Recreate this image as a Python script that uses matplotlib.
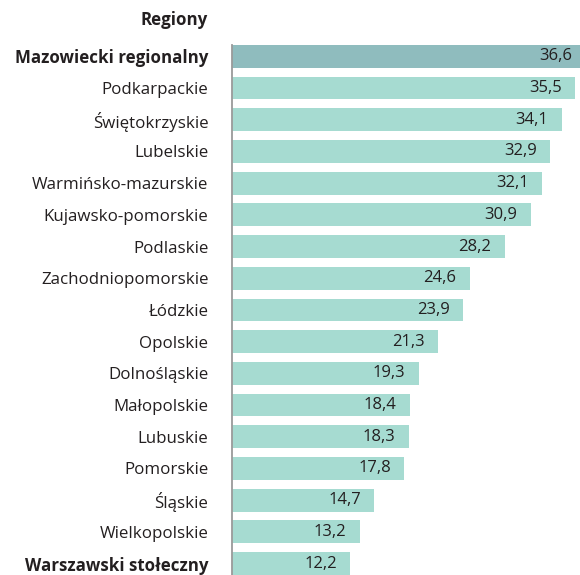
import numpy as np
import matplotlib
matplotlib.use("Agg")
import matplotlib.pyplot as plt

plt.rcParams['font.family'] = ['Open Sans', 'DejaVu Sans']

regions = ['Mazowiecki regionalny', 'Podkarpackie', 'Świętokrzyskie', 'Lubelskie',
           'Warmińsko-mazurskie', 'Kujawsko-pomorskie', 'Podlaskie', 'Zachodniopomorskie',
           'Łódzkie', 'Opolskie', 'Dolnośląskie', 'Małopolskie', 'Lubuskie', 'Pomorskie',
           'Śląskie', 'Wielkopolskie', 'Warszawski stołeczny']
values = [36.6, 35.5, 34.1, 32.9, 32.1, 30.9, 28.2, 24.6, 23.9, 21.3,
          19.3, 18.4, 18.3, 17.8, 14.7, 13.2, 12.2]
bold_rows = ['Mazowiecki regionalny', 'Warszawski stołeczny']

W, H = 580, 575
fig = plt.figure(figsize=(W / 100, H / 100), dpi=100)
top_px, bot_px = 40.5, 579.4
ax = fig.add_axes([232 / W, 1 - bot_px / H, 1 - 232 / W, (bot_px - top_px) / H])

y = np.arange(len(regions))
colors = ['#8fbcbe' if i == 0 else '#a6dbd1' for i in range(len(regions))]
ax.barh(y, values, height=0.72, color=colors, clip_on=True)

ax.set_xlim(0, 36.0)
ax.set_ylim(len(regions) - 0.5, -0.5)

for i, v in enumerate(values):
    ax.annotate(f'{v:.1f}'.replace('.', ','), xy=(v, i), xytext=(-9.5, 0),
                textcoords='offset points', ha='right', va='center',
                fontsize=12, color='#231f20', annotation_clip=False)

ax.set_yticks(y)
ax.set_yticklabels(regions, fontsize=12.2, color='#231f20')
for lbl in ax.get_yticklabels():
    if lbl.get_text() in bold_rows:
        lbl.set_fontweight('bold')
ax.tick_params(axis='y', length=0, pad=17)
ax.set_xticks([])

for s in ['top', 'right', 'bottom']:
    ax.spines[s].set_visible(False)
ax.spines['left'].set_color('#9a9a9a')
ax.spines['left'].set_linewidth(1.3)
ax.spines['left'].set_bounds(-0.36, len(regions) - 0.5)

fig.text(208 / W, 1 - 20 / H, 'Regiony', ha='right', va='center',
         fontsize=12.2, fontweight='bold', color='#231f20')

fig.savefig('out.png', dpi=100)
